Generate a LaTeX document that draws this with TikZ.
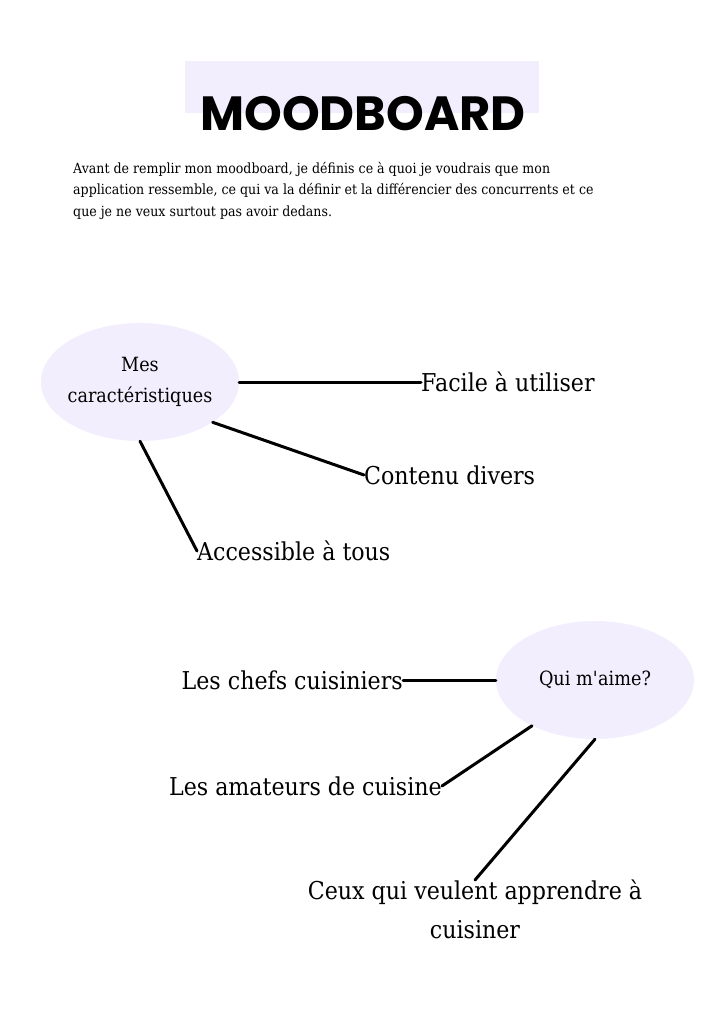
\documentclass[tikz,border=0pt]{standalone}
\usepackage{fontspec}
\setmainfont{DejaVu Serif}[FakeStretch=0.9]
\newfontfamily\titlefont{Poppins}
\usetikzlibrary{shapes.geometric}
\definecolor{lavande}{HTML}{F3EEFD}
\tikzset{
    bulle/.style={
        ellipse, fill=lavande, inner sep=-6pt,
        minimum width=198pt, minimum height=118pt,
        align=center, font=\fontsize{19.6}{31}\selectfont
    },
    item/.style={
        inner sep=0pt, font=\fontsize{24.6}{39}\selectfont
    },
    lien/.style={line width=3pt}
}

\begin{document}
\begin{tikzpicture}[x=1pt,y=-1pt,line cap=round,line join=round]

% --- page ---
    \useasboundingbox[fill=white] (0,0) rectangle (724,1024);

% title band
    \fill[lavande] (185,61) rectangle (539,113);
    \node[anchor=base, inner sep=0pt,
          font=\titlefont\bfseries\fontsize{48}{48}\selectfont]
        (titre) at (363,131) {MOODBOARD};

% intro text
    \node[anchor=north west, inner sep=0pt, align=left,
          font=\fontsize{14}{21.5}\selectfont] (intro) at (73,162)
        {Avant de remplir mon moodboard, je définis ce à quoi je voudrais que mon\\
         application ressemble, ce qui va la définir et la différencier des concurrents et ce\\
         que je ne veux surtout pas avoir dedans.};

% --- first bubble ---
    \node[bulle] (carac) at (140,382) {Mes\\caractéristiques};

    \node[item, anchor=west] (facile)   at (421,382) {Facile à utiliser};
    \node[item, anchor=west] (contenu)  at (364,475) {Contenu divers};
    \node[item, anchor=west] (access)   at (197,551) {Accessible à tous};

    \draw[lien] (carac.east)  -- (facile.west);
    \draw[lien] (carac.-29)   -- (contenu.west);
    \draw[lien] (carac.south) -- (access.west);

% --- second bubble ---
    \node[bulle] (qui) at (595,680) {Qui m\textquotesingle aime?};

    \node[item, anchor=east] (chefs)    at (403,680) {Les chefs cuisiniers};
    \node[item, anchor=east] (amateurs) at (442,786) {Les amateurs de cuisine};
    \node[item, anchor=north, align=center] (ceux) at (475,880)
        {Ceux qui veulent apprendre à\\cuisiner};

    \draw[lien] (qui.west)  -- (chefs.east);
    \draw[lien] (qui.-144)  -- (amateurs.east);
    \draw[lien] (qui.south) -- (ceux.north);

\end{tikzpicture}
\end{document}
